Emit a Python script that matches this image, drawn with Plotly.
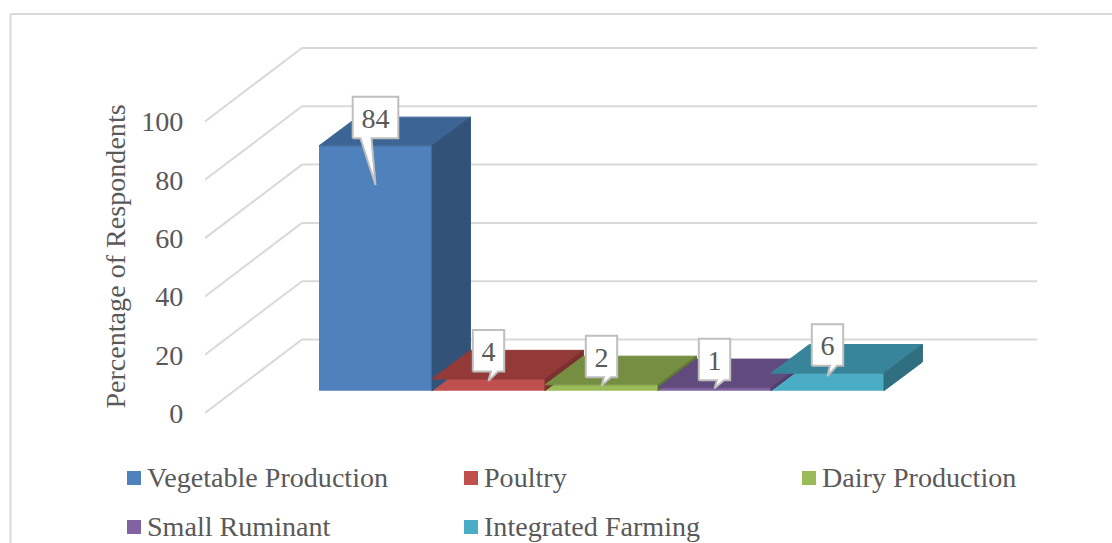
import plotly.graph_objects as go

# Survey data
categories = ["Vegetable Production", "Poultry", "Dairy Production", "Small Ruminant", "Integrated Farming"]
values = [84, 4, 2, 1, 6]
y_ticks = [0, 20, 40, 60, 80, 100]
y_title = "Percentage of Respondents"

# Face colours of each column
front_colors = ["#4F81BD", "#C0504D", "#9BBB59", "#8064A2", "#4BACC6"]
top_colors = ["#3C6596", "#933A38", "#758E41", "#614B7E", "#38849A"]
side_colors = ["#32527A", "#7A302E", "#5F7435", "#503E68", "#2F6F80"]

WIDTH, HEIGHT = 1112, 543
PX_X = 113.0          # pixels per column
PX_Y = 2.915          # pixels per percentage point
ORIGIN_X = 375.5      # pixel centre of the first column
ORIGIN_Y = 413.0      # pixel height of value 0 on the front edge
DOMAIN_LEFT = 205.0
DOMAIN_BOTTOM = 513.0

# Oblique depth, expressed in axis units
WALL_DX = 97.0 / PX_X
WALL_DY = 73.5 / PX_Y
WALL_RIGHT = (1037.0 - ORIGIN_X) / PX_X
BAR_DX = 38.4 / PX_X
BAR_DY = 28.7 / PX_Y
BAR_FLOOR = 22.3 / PX_Y
HALF = 0.5

x_low = (DOMAIN_LEFT - ORIGIN_X) / PX_X
x_high = (WIDTH - ORIGIN_X) / PX_X
y_low = (ORIGIN_Y - DOMAIN_BOTTOM) / PX_Y
y_high = ORIGIN_Y / PX_Y

TEXT = "#595959"
GRID = "#D9D9D9"
FONT = "Liberation Serif"
FSIZE = 28.1

fig = go.Figure()

# Front faces are real bars, raised onto the floor of the chart
for i, (name, v) in enumerate(zip(categories, values)):
    fig.add_trace(go.Bar(
        x=[i], y=[v], base=BAR_FLOOR, width=1.0, name=name,
        marker=dict(color=front_colors[i], line=dict(width=0)),
        showlegend=False, hoverinfo="skip",
    ))

# Top and side faces, painted left to right so later columns cover earlier sides
for i, v in enumerate(values):
    top = BAR_FLOOR + v
    fig.add_trace(go.Scatter(
        x=[i - HALF, i + HALF, i + HALF + BAR_DX, i - HALF + BAR_DX, i - HALF],
        y=[top, top, top + BAR_DY, top + BAR_DY, top],
        mode="lines", fill="toself", fillcolor=top_colors[i],
        line=dict(width=1, color=top_colors[i]), showlegend=False, hoverinfo="skip",
    ))
    fig.add_trace(go.Scatter(
        x=[i + HALF, i + HALF + BAR_DX, i + HALF + BAR_DX, i + HALF, i + HALF],
        y=[BAR_FLOOR, BAR_FLOOR + BAR_DY, top + BAR_DY, top, BAR_FLOOR],
        mode="lines", fill="toself", fillcolor=side_colors[i],
        line=dict(width=1, color=side_colors[i]), showlegend=False, hoverinfo="skip",
    ))

# Callout boxes around the value labels
BOX_GAP = 7.5 / PX_Y
BOX_H = 41.5 / PX_Y
TIP_FRACTION = 0.84
LABEL_DROP = 3.5 / PX_Y
label_y = []
for i, v in enumerate(values):
    wide = v >= 10
    half_w = (22.8 if wide else 15.7) / PX_X
    tail_a, tail_b = ((-15.0, -4.0) if wide else (2.5, 9.5))
    top = BAR_FLOOR + v
    y0 = top + BOX_GAP
    y1 = y0 + BOX_H
    tip = BAR_FLOOR + v * TIP_FRACTION
    fig.add_trace(go.Scatter(
        x=[i - half_w, i - half_w, i + half_w, i + half_w,
           i + tail_b / PX_X, i, i + tail_a / PX_X, i - half_w],
        y=[y0, y1, y1, y0, y0, tip, y0, y0],
        mode="lines", fill="toself", fillcolor="#FFFFFF",
        line=dict(color="#BFBFBF", width=2), showlegend=False, hoverinfo="skip",
    ))
    label_y.append((y0 + y1) / 2 - LABEL_DROP)

fig.add_trace(go.Scatter(
    x=list(range(len(values))), y=label_y, text=[str(v) for v in values],
    mode="text", textposition="middle center",
    textfont=dict(family=FONT, size=FSIZE, color=TEXT),
    showlegend=False, hoverinfo="skip",
))

# Back wall and side wall gridlines sit beneath the columns
shapes = []
for t in y_ticks:
    line = dict(color=GRID, width=2)
    shapes.append(dict(type="line", xref="x", yref="y", layer="below", line=line,
                       x0=x_low, y0=t, x1=x_low + WALL_DX, y1=t + WALL_DY))
    shapes.append(dict(type="line", xref="x", yref="y", layer="below", line=line,
                       x0=x_low + WALL_DX, y0=t + WALL_DY, x1=WALL_RIGHT, y1=t + WALL_DY))

# Outer chart border
shapes.append(dict(type="line", xref="paper", yref="paper", line=dict(color=GRID, width=2),
                   x0=10.5 / WIDTH, y0=0, x1=10.5 / WIDTH, y1=1 - 14 / HEIGHT))
shapes.append(dict(type="line", xref="paper", yref="paper", line=dict(color=GRID, width=2),
                   x0=10.5 / WIDTH, y0=1 - 14 / HEIGHT, x1=1, y1=1 - 14 / HEIGHT))

# Key laid out in three columns with wide row spacing
key_x = [127, 464, 802]
key_y = [478, 527]
annotations = []
for i, name in enumerate(categories):
    col, row = i % 3, i // 3
    px, py = key_x[col], key_y[row]
    shapes.append(dict(type="rect", xref="paper", yref="paper", line=dict(width=0),
                       fillcolor=front_colors[i],
                       x0=px / WIDTH, x1=(px + 14) / WIDTH,
                       y0=1 - (py + 7) / HEIGHT, y1=1 - (py - 7) / HEIGHT))
    annotations.append(dict(text=name, xref="paper", yref="paper", showarrow=False,
                            x=(px + 18) / WIDTH, y=1 - (py - 1) / HEIGHT,
                            xanchor="left", yanchor="middle",
                            font=dict(family=FONT, size=FSIZE, color=TEXT)))

fig.update_layout(
    width=WIDTH, height=HEIGHT,
    margin=dict(l=0, r=0, t=0, b=0),
    paper_bgcolor="white", plot_bgcolor="white",
    barmode="overlay", showlegend=False,
    shapes=shapes, annotations=annotations,
    xaxis=dict(visible=False, range=[x_low, x_high],
               domain=[DOMAIN_LEFT / WIDTH, 1]),
    yaxis=dict(range=[y_low, y_high], domain=[1 - DOMAIN_BOTTOM / HEIGHT, 1],
               tickmode="array", tickvals=y_ticks, ticktext=[str(t) for t in y_ticks],
               showgrid=False, zeroline=False, showline=False,
               ticks="outside", ticklen=15, tickcolor="rgba(0,0,0,0)",
               tickfont=dict(family=FONT, size=FSIZE, color=TEXT),
               title=dict(text=y_title, standoff=7,
                          font=dict(family=FONT, size=FSIZE, color=TEXT))),
)

fig.write_html("out.html")
